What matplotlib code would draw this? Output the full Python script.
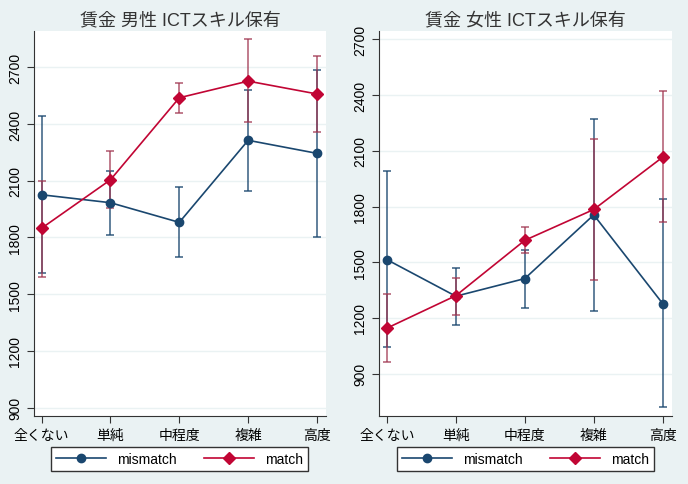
import matplotlib
matplotlib.use("Agg")
import matplotlib.pyplot as plt
import numpy as np

plt.rcParams['font.family'] = ['Liberation Sans', 'Noto Sans CJK JP', 'DejaVu Sans']

cats = ["全くない", "単純", "中程度", "複雑", "高度"]
titles = ["賃金 男性 ICTスキル保有", "賃金 女性 ICTスキル保有"]

# men
m_mis = [2026, 1984, 1880, 2314, 2245]
m_mis_lo = [1612, 1815, 1699, 2046, 1803]
m_mis_hi = [2441, 2151, 2065, 2581, 2688]
m_mat = [1849, 2105, 2539, 2627, 2559]
m_mat_lo = [1589, 1956, 2460, 2409, 2359]
m_mat_hi = [2100, 2259, 2617, 2848, 2762]

# women
w_mis = [1514, 1317, 1412, 1755, 1277]
w_mis_lo = [1042, 1162, 1252, 1239, 718]
w_mis_hi = [1989, 1468, 1568, 2272, 1840]
w_mat = [1145, 1320, 1618, 1784, 2066]
w_mat_lo = [963, 1218, 1548, 1406, 1714]
w_mat_hi = [1328, 1415, 1691, 2161, 2422]

yticks = [900, 1200, 1500, 1800, 2100, 2400, 2700]
ylims = [(856, 2892), (672, 2745)]

BG = "#EAF2F3"
BLUE = "#1A476F"
RED = "#C10534"

fig = plt.figure(figsize=(6.88, 4.85), dpi=100, facecolor=BG)
axes = [fig.add_axes([0.0494, 0.1402, 0.4244, 0.7938]),
        fig.add_axes([0.5513, 0.1402, 0.4250, 0.7938])]
legend_centers = [(0.2609, 0.0515), (0.7636, 0.0515)]

data = [(m_mis, m_mis_lo, m_mis_hi, m_mat, m_mat_lo, m_mat_hi),
        (w_mis, w_mis_lo, w_mis_hi, w_mat, w_mat_lo, w_mat_hi)]

x = np.arange(len(cats))
for i, ax in enumerate(axes):
    mis, mis_lo, mis_hi, mat, mat_lo, mat_hi = [np.array(v) for v in data[i]]
    ax.set_facecolor("white")
    ax.errorbar(x, mis, yerr=[mis - mis_lo, mis_hi - mis], fmt="none",
                ecolor=BLUE, alpha=0.75, elinewidth=1.3, capsize=3, capthick=1.3, zorder=2)
    ax.errorbar(x, mat, yerr=[mat - mat_lo, mat_hi - mat], fmt="none",
                ecolor="#A0354F", alpha=0.7, elinewidth=1.3, capsize=3, capthick=1.3, zorder=2)
    l1, = ax.plot(x, mis, color=BLUE, marker="o", markersize=6, lw=1.2, label="mismatch", zorder=3)
    l2, = ax.plot(x, mat, color=RED, marker="D", markersize=6, lw=1.2, label="match", zorder=4)
    ax.set_xlim(-0.11, 4.13)
    ax.set_ylim(*ylims[i])
    ax.set_yticks(yticks)
    ax.set_yticklabels([str(t) for t in yticks], rotation=90, va="center", fontsize=10)
    ax.set_xticks(x)
    ax.set_xticklabels(cats, fontsize=10)
    ax.grid(axis="y", color=BG, lw=1)
    ax.set_axisbelow(True)
    for s in ["top", "right"]:
        ax.spines[s].set_visible(False)
    for s in ["left", "bottom"]:
        ax.spines[s].set_color("#333333")
    ax.tick_params(colors="#333333", length=5, labelcolor="black")
    ax.set_title(titles[i], fontsize=13, color="#333333", pad=5)
    fig.legend(handles=[l1, l2], loc="center", bbox_to_anchor=legend_centers[i],
               ncol=2, fancybox=False, edgecolor="#333333",
               facecolor="white", framealpha=1, fontsize=10, handlelength=3.6,
               handletextpad=0.8, columnspacing=2.0, borderpad=0.35, borderaxespad=0)

fig.savefig("out.png", dpi=100, facecolor=BG)
